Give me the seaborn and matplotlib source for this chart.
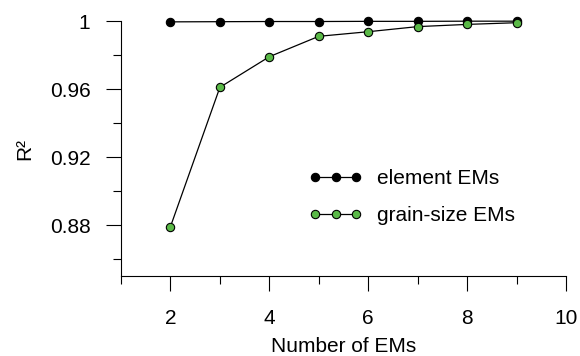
import matplotlib
matplotlib.use("Agg")
import matplotlib.pyplot as plt
from matplotlib.lines import Line2D
import seaborn as sns
import pandas as pd

num_ems = [2, 3, 4, 5, 6, 7, 8, 9]
element_r2 = [0.9995, 0.9996, 0.9997, 0.9997, 0.9998, 0.9998, 0.9999, 0.9999]
grain_r2 = [0.879, 0.961, 0.979, 0.991, 0.9937, 0.9967, 0.998, 0.999]
series_names = ["element EMs", "grain-size EMs"]
y_major = [0.88, 0.92, 0.96, 1.0]
y_major_labels = ["0.88", "0.92", "0.96", "1"]
y_minor = [0.86, 0.90, 0.94, 0.98]
x_major = [2, 4, 6, 8, 10]
x_minor = [1, 3, 5, 7, 9]

sns.set_style("ticks")
plt.rcParams["font.family"] = ["Liberation Sans", "DejaVu Sans"]
plt.rcParams["text.color"] = "black"
plt.rcParams["axes.labelcolor"] = "black"

FS = 15
GREEN = "#5ab947"
MS = 6

df = pd.DataFrame({
    "n": num_ems * 2,
    "r2": element_r2 + grain_r2,
    "kind": [series_names[0]] * len(num_ems) + [series_names[1]] * len(num_ems),
})

fig = plt.figure(figsize=(5.8, 3.56), dpi=100)
ax = fig.add_axes([0.2086, 0.2247, 0.7674, 0.7163])

palette = {series_names[0]: "black", series_names[1]: GREEN}
sns.lineplot(data=df, x="n", y="r2", hue="kind", palette=palette, ax=ax,
             marker="o", markersize=MS, markeredgecolor="black",
             markeredgewidth=0.8, linewidth=0.9, legend=False)
for line, face in zip(ax.lines, ["black", GREEN]):
    line.set_color("black")
    line.set_markerfacecolor(face)
    line.set_clip_on(False)

ax.set_xlim(1, 10)
ax.set_ylim(0.85, 1.0)
ax.set_yticks(y_major)
ax.set_yticklabels(y_major_labels)
ax.set_yticks(y_minor, minor=True)
ax.set_xticks(x_major)
ax.set_xticks(x_minor, minor=True)

ax.tick_params(axis="both", which="both", width=0.8, color="black",
               labelsize=FS, labelcolor="black")
ax.tick_params(axis="x", which="major", length=11, pad=13)
ax.tick_params(axis="x", which="minor", length=6)
ax.tick_params(axis="y", which="major", length=11, pad=11)
ax.tick_params(axis="y", which="minor", length=6)

sns.despine(ax=ax)
for side in ("left", "bottom"):
    ax.spines[side].set_linewidth(0.8)
    ax.spines[side].set_color("black")

ax.set_xlabel("Number of EMs", fontsize=FS, labelpad=6)
ax.set_ylabel("R²", fontsize=FS, labelpad=11)

handles = [
    Line2D([], [], color="black", lw=0.9, marker="o", markersize=MS,
           markerfacecolor=face, markeredgecolor="black", markeredgewidth=0.8)
    for face in ["black", GREEN]
]
ax.legend(handles, series_names, numpoints=3, frameon=False, fontsize=FS,
          loc="upper left", bbox_to_anchor=(0.532, 0.525),
          bbox_transform=fig.transFigure, borderpad=0, borderaxespad=0,
          handlelength=2.6, handletextpad=0.7, labelspacing=0.85)

fig.savefig("out.png", dpi=100)
